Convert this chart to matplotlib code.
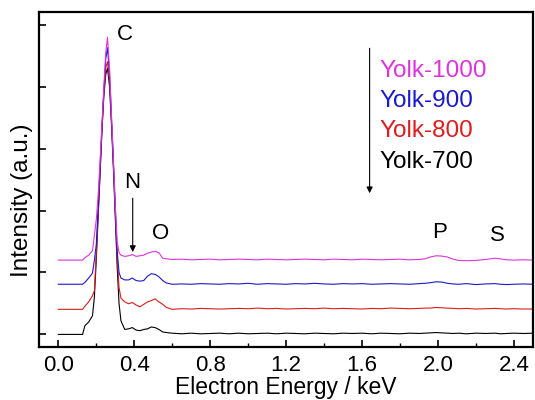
import matplotlib
matplotlib.use("Agg")
import matplotlib.pyplot as plt
import numpy as np

plt.rcParams['font.family'] = ['Liberation Sans', 'DejaVu Sans']

# Energy grid (keV)
energy = [0.00, 0.05, 0.10, 0.128, 0.14, 0.16, 0.18, 0.19, 0.20, 0.21, 0.22, 0.23,
          0.24, 0.25, 0.259, 0.27, 0.28, 0.29, 0.30, 0.31, 0.32, 0.33,
          0.35, 0.37, 0.39, 0.41, 0.43, 0.45, 0.47, 0.49, 0.51,
          0.53, 0.55, 0.57, 0.60, 0.65, 0.70, 0.75, 0.80, 0.85, 0.90, 0.95, 1.00,
          1.05, 1.10, 1.15, 1.20, 1.25, 1.30, 1.35, 1.40, 1.45, 1.50, 1.55, 1.60,
          1.65, 1.70, 1.75, 1.80, 1.85, 1.90, 1.93, 1.96, 1.99, 2.02, 2.05, 2.08,
          2.11, 2.15, 2.20, 2.25, 2.30, 2.33, 2.36, 2.40, 2.45, 2.50]

# Intensities relative to each trace's own baseline (a.u.)
yolk700 = [0.00, 0.00, 0.00, 0.00, 0.14, 0.20, 0.30, 0.60, 1.20, 1.90, 2.60, 3.30,
           3.85, 4.20, 4.30, 4.00, 3.40, 2.70, 1.90, 1.10, 0.50, 0.22,
           0.08, 0.09, 0.11, 0.07, 0.06, 0.08, 0.09, 0.12, 0.11,
           0.08, 0.04, 0.03, 0.02, 0.01, 0.02, 0.01, 0.015, 0.02, 0.01, 0.02, 0.01,
           0.015, 0.02, 0.01, 0.02, 0.015, 0.01, 0.02, 0.015, 0.01, 0.02, 0.015, 0.02,
           0.01, 0.02, 0.015, 0.01, 0.02, 0.015, 0.02, 0.025, 0.03, 0.025, 0.02, 0.015,
           0.02, 0.01, 0.02, 0.015, 0.02, 0.01, 0.015, 0.02, 0.015, 0.02]
yolk800 = [0.00, 0.00, 0.00, 0.00, 0.05, 0.12, 0.22, 0.30, 0.90, 1.55, 2.20, 2.90,
           3.50, 3.90, 4.00, 3.70, 3.05, 2.35, 1.60, 0.85, 0.35, 0.18,
           0.12, 0.09, 0.11, 0.07, 0.04, 0.08, 0.12, 0.14, 0.17,
           0.12, 0.08, 0.03, 0.00, 0.01, 0.005, 0.015, 0.01, 0.005, 0.01, 0.015, 0.01,
           0.02, 0.01, 0.015, 0.005, 0.01, 0.015, 0.01, 0.02, 0.01, 0.015, 0.01, 0.005,
           0.015, 0.01, 0.02, 0.015, 0.01, 0.015, 0.02, 0.02, 0.03, 0.025, 0.02, 0.015,
           0.01, 0.015, 0.005, 0.01, 0.015, 0.01, 0.005, 0.01, 0.005, 0.005]
yolk900 = [0.00, 0.00, 0.00, 0.00, 0.03, 0.10, 0.18, 0.39, 0.64, 1.24, 1.89, 2.54,
           3.14, 3.64, 3.82, 3.39, 2.69, 1.99, 1.24, 0.54, 0.19, 0.10,
           0.07, 0.07, 0.10, 0.06, 0.05, 0.06, 0.13, 0.17, 0.16,
           0.12, 0.06, 0.02, 0.00, 0.005, 0.0, 0.01, 0.005, 0.0, 0.01, 0.005, 0.015,
           0.0, 0.01, 0.005, 0.0, 0.01, 0.005, 0.015, 0.005, 0.0, 0.01, 0.005, 0.01,
           0.0, 0.005, 0.01, 0.005, 0.0, 0.01, 0.015, 0.025, 0.04, 0.035, 0.015, 0.005,
           0.0, 0.01, -0.005, 0.005, 0.01, 0.0, -0.005, 0.0, 0.005, 0.0]
yolk1000 = [0.00, 0.00, 0.00, 0.00, 0.04, 0.08, 0.15, 0.40, 0.65, 1.05, 1.60, 2.20,
            2.80, 3.35, 3.60, 3.10, 2.35, 1.65, 0.90, 0.30, 0.12, 0.08,
            0.06, 0.07, 0.09, 0.06, 0.07, 0.08, 0.11, 0.13, 0.14,
            0.12, 0.03, 0.02, 0.01, 0.015, 0.005, 0.01, 0.015, 0.005, 0.01, 0.015, 0.01,
            0.005, 0.015, 0.01, 0.005, 0.01, 0.015, 0.01, 0.005, 0.015, 0.01, 0.005, 0.015,
            0.01, 0.005, 0.01, 0.015, 0.005, 0.01, 0.02, 0.05, 0.07, 0.065, 0.05, 0.015,
            -0.005, -0.01, -0.005, 0.01, 0.03, 0.02, 0.005, 0.0, 0.005, 0.0]

series_names = ["Yolk-700", "Yolk-800", "Yolk-900", "Yolk-1000"]
series_values = [yolk700, yolk800, yolk900, yolk1000]
offsets = [0.0, 0.405, 0.81, 1.2]
colors = ["#000000", "#dd1c1c", "#1a1acc", "#dd33dd"]

peak_labels = ["C", "N", "O", "P", "S"]
peak_label_pos = [(0.35, 4.84), (0.387, 2.46), (0.54, 1.63), (2.007, 1.64), (2.311, 1.59)]

fig = plt.figure(figsize=(5.35, 4.0), dpi=100)
ax = fig.add_axes([0.0735, 0.133, 0.9225, 0.836])

for vals, off, c in zip(series_values, offsets, colors):
    ax.plot(energy, np.array(vals) + off, color=c, lw=0.8)

for lab, (xx, yy) in zip(peak_labels, peak_label_pos):
    ax.text(xx, yy, lab, fontsize=16, ha='center', va='center')

# N arrow
ax.annotate('', xy=(0.392, 1.33), xytext=(0.392, 2.2),
            arrowprops=dict(arrowstyle='-|>', lw=0.8, color='k', mutation_scale=9,
                            shrinkA=0, shrinkB=0))
# long arrow
ax.annotate('', xy=(1.64, 2.28), xytext=(1.64, 4.62),
            arrowprops=dict(arrowstyle='-|>', lw=0.8, color='k', mutation_scale=9,
                            shrinkA=0, shrinkB=0))

legend_y = [4.26, 3.77, 3.285, 2.78]
legend_order = [3, 2, 1, 0]
for yy, idx in zip(legend_y, legend_order):
    ax.text(1.692, yy, series_names[idx], color=colors[idx], fontsize=17.5,
            ha='left', va='center')

ax.set_xlim(-0.1, 2.5)
ax.set_ylim(-0.2, 5.2)
ax.set_xticks([0.0, 0.4, 0.8, 1.2, 1.6, 2.0, 2.4])
ax.set_xticklabels(["0.0", "0.4", "0.8", "1.2", "1.6", "2.0", "2.4"])
ax.set_xticks([0.2, 0.6, 1.0, 1.4, 1.8, 2.2], minor=True)
ax.set_yticks([0, 1, 2, 3, 4, 5])
ax.set_yticklabels([])
ax.tick_params(axis='both', which='major', direction='in', length=5, width=1.2,
               labelsize=16, top=False, right=False)
ax.tick_params(axis='x', which='minor', direction='in', length=3, width=1.0)
ax.tick_params(axis='x', pad=6)
for s in ax.spines.values():
    s.set_linewidth(1.6)

ax.set_xlabel("Electron Energy / keV", fontsize=16.5, labelpad=0)
ax.set_ylabel("Intensity (a.u.)", fontsize=17.5)
ax.yaxis.set_label_coords(-0.012, 0.439)

fig.savefig("out.png", dpi=100)
